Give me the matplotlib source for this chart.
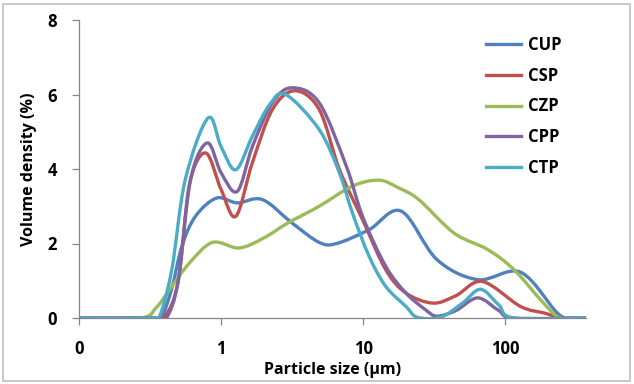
import numpy as np
import matplotlib
matplotlib.use("Agg")
import matplotlib.pyplot as plt
from matplotlib.path import Path
from matplotlib.patches import PathPatch, Rectangle
from matplotlib.lines import Line2D

plt.rcParams['font.family'] = ['Open Sans', 'DejaVu Sans']
plt.rcParams['font.weight'] = 'bold'

# values (size in um, volume density in %)
cup_size = [0.1, 0.3, 0.38, 0.45, 0.53, 0.66, 0.93, 1.3, 1.95, 3.16, 4.9, 6.5, 11, 18.5, 33, 64, 128, 233, 290, 370]
cup_vol = [0, 0, 0.05, 0.8, 1.93, 2.73, 3.22, 3.09, 3.18, 2.55, 2.03, 2.0, 2.37, 2.87, 1.57, 1.03, 1.23, 0.13, 0, 0]

csp_size = [0.1, 0.3, 0.4, 0.5, 0.6, 0.78, 1.0, 1.27, 1.66, 2.3, 3.3, 4.9, 6.8, 9.9, 14.4, 20, 31, 45, 69, 128, 190, 250, 370]
csp_vol = [0, 0, 0.05, 1.0, 3.6, 4.43, 3.45, 2.73, 4.17, 5.6, 6.1, 5.6, 3.99, 2.64, 1.3, 0.67, 0.40, 0.6, 0.98, 0.31, 0.13, 0, 0]

czp_size = [0.1, 0.27, 0.35, 0.45, 0.6, 0.87, 1.34, 2.0, 2.95, 4.9, 8.4, 12.9, 17.6, 24.6, 43.6, 75, 115, 186, 245, 370]
czp_vol = [0, 0, 0.28, 0.85, 1.48, 2.03, 1.88, 2.15, 2.55, 3.0, 3.54, 3.7, 3.5, 3.18, 2.28, 1.84, 1.30, 0.40, 0, 0]

cpp_size = [0.1, 0.35, 0.42, 0.5, 0.61, 0.8, 1.0, 1.3, 1.66, 2.3, 3.16, 4.9, 7.6, 9.9, 14.4, 20, 27.5, 33, 45, 64, 90, 115, 370]
cpp_vol = [0, 0, 0.05, 1.03, 3.72, 4.7, 3.9, 3.40, 4.6, 5.78, 6.18, 5.78, 4.08, 2.73, 1.39, 0.67, 0.22, 0.05, 0.2, 0.54, 0.2, 0, 0]

ctp_size = [0.1, 0.33, 0.37, 0.45, 0.56, 0.81, 1.0, 1.27, 1.66, 2.2, 2.85, 4.9, 6.8, 8.4, 11, 14.4, 20, 24, 35, 50, 67, 90, 115, 370]
ctp_vol = [0, 0, 0.05, 1.3, 3.72, 5.37, 4.6, 3.98, 4.88, 5.73, 6.0, 5.06, 3.9, 2.82, 1.66, 0.85, 0.31, 0.02, 0.02, 0.4, 0.77, 0.35, 0, 0]

names = ['CUP', 'CSP', 'CZP', 'CPP', 'CTP']
colors = ['#4F81BD', '#C0504D', '#9BBB59', '#8064A2', '#4BACC6']
series = [(cup_size, cup_vol), (csp_size, csp_vol), (czp_size, czp_vol),
          (cpp_size, cpp_vol), (ctp_size, ctp_vol)]

xticks = [0.1, 1, 10, 100]
xticklabels = ['0', '1', '10', '100']
yticks = [0, 2, 4, 6, 8]


def smooth_path(xs, ys):
    # excel-style smoothed line: cubic bezier segments in log-x space
    p = np.column_stack([np.log10(xs), ys])
    n = len(p)
    verts = [p[0]]
    codes = [Path.MOVETO]
    for i in range(n - 1):
        p0 = p[max(i - 1, 0)]
        p1 = p[i]
        p2 = p[i + 1]
        p3 = p[min(i + 2, n - 1)]
        verts += [p1 + (p2 - p0) / 6, p2 - (p3 - p1) / 6, p2]
        codes += [Path.CURVE4] * 3
    verts = np.array(verts)
    verts[:, 0] = 10 ** verts[:, 0]
    return Path(verts, codes)


fig = plt.figure(figsize=(6.34, 3.84), dpi=100)
ax = fig.add_axes([79 / 634, 1 - 318 / 384, (586 - 79) / 634, (318 - 20) / 384])
ax.set_xscale('log')

handles = []
for (xs, ys), name, c in zip(series, names, colors):
    ax.add_patch(PathPatch(smooth_path(xs, ys), facecolor='none', edgecolor=c,
                           lw=2.4, capstyle='round', joinstyle='round'))
    handles.append(Line2D([], [], color=c, lw=2.4, label=name))

ax.set_xlim(0.1, 370)
ax.set_ylim(0, 8)
ax.set_xticks(xticks)
ax.set_xticklabels(xticklabels)
ax.xaxis.set_minor_locator(matplotlib.ticker.NullLocator())
ax.set_yticks(yticks)

for s in ['top', 'right']:
    ax.spines[s].set_visible(False)
for s in ['left', 'bottom']:
    ax.spines[s].set_color('#868686')
    ax.spines[s].set_linewidth(0.9)
ax.tick_params(axis='both', colors='#868686', labelcolor='black', length=5,
               width=0.9, labelsize=12, pad=11)
for lab in ax.get_xticklabels() + ax.get_yticklabels():
    lab.set_fontweight('bold')

ax.set_xlabel('Particle size (μm)', fontsize=11.5, fontweight='bold', labelpad=3)
ax.set_ylabel('Volume density (%)', fontsize=11.5, fontweight='bold', labelpad=7)

leg = fig.legend(handles=handles, loc='upper left', bbox_to_anchor=(486 / 634, 1 - 36 / 384),
                 frameon=False, fontsize=12, handlelength=2.1, handletextpad=0.4,
                 labelspacing=0.76, borderpad=0, borderaxespad=0)
for t in leg.get_texts():
    t.set_fontweight('bold')

fig.patches.append(Rectangle((3 / 634, 3 / 384), 627 / 634, 377 / 384, transform=fig.transFigure,
                             fill=False, edgecolor='#bfbfbf', lw=1.2))

fig.savefig('out.png', dpi=100)
